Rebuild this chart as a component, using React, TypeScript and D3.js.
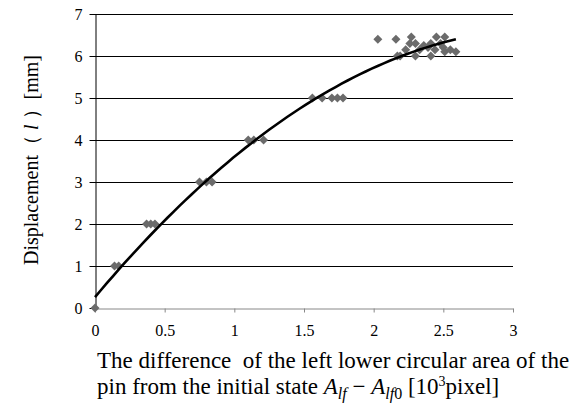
import React, { useEffect, useRef } from 'react';
import * as d3 from 'd3';

// values
const areaDiff = [
  0, 0.14, 0.17, 0.37, 0.4, 0.43, 0.75, 0.8, 0.84, 1.1, 1.14, 1.21,
  1.56, 1.63, 1.7, 1.74, 1.78, 2.03, 2.16, 2.17, 2.19, 2.23, 2.26, 2.27,
  2.3, 2.3, 2.33, 2.36, 2.39, 2.41, 2.41, 2.44, 2.45, 2.48, 2.5, 2.51,
  2.51, 2.55, 2.59,
];
const displacement = [
  0, 1, 1, 2, 2, 2, 3, 3, 3, 4, 4, 4,
  5, 5, 5, 5, 5, 6.4, 6.4, 6.0, 6.0, 6.15, 6.3, 6.45,
  6.0, 6.3, 6.15, 6.25, 6.2, 6.0, 6.3, 6.15, 6.45, 6.3, 6.2, 6.45,
  6.1, 6.15, 6.1,
];
// polynomial trendline y = c0 + c1 x + c2 x^2
const trendCoef = [0.26, 3.95, -0.61];
const xTicks = [0, 0.5, 1, 1.5, 2, 2.5, 3];
const yTicks = [0, 1, 2, 3, 4, 5, 6, 7];

const App: React.FC = () => {
  const svgRef = useRef<SVGSVGElement>(null);

  useEffect(() => {
    document.body.style.margin = '0';
    if (!svgRef.current) return;
    const width = 570;
    const height = 405;
    const left = 95, right = 513, top = 14, bottom = 308;

    const svg = d3.select(svgRef.current);
    svg.selectAll('*').remove();
    svg.attr('width', width).attr('height', height)
      .style('display', 'block')
      .style('font-family', '"Liberation Serif", "Times New Roman", serif');

    const x = d3.scaleLinear().domain([0, 3]).range([left, right]);
    const y = d3.scaleLinear().domain([0, 7]).range([bottom, top]);

    // gridlines
    svg.append('g').selectAll('line')
      .data(yTicks.filter(d => d > 0))
      .join('line')
      .attr('x1', left).attr('x2', right)
      .attr('y1', d => Math.round(y(d)) + 0.5).attr('y2', d => Math.round(y(d)) + 0.5)
      .attr('stroke', '#000').attr('stroke-width', 1);

    // x axis
    const xAxis = svg.append('g')
      .attr('transform', `translate(0,${Math.round(y(0)) + 0.5})`)
      .call(d3.axisBottom(x).tickValues(xTicks).tickSize(4).tickSizeOuter(0).tickPadding(12)
        .tickFormat(d => String(d)));
    xAxis.select('.domain').attr('stroke', '#888');
    xAxis.selectAll('.tick line').attr('stroke', '#888');
    xAxis.selectAll('text').attr('font-size', 16).attr('fill', '#000')
      .attr('font-family', '"Liberation Serif", serif');

    // y axis
    const yAxis = svg.append('g')
      .attr('transform', `translate(${left + 0.5},0)`)
      .call(d3.axisLeft(y).tickValues(yTicks).tickSize(6).tickSizeOuter(0).tickPadding(7)
        .tickFormat(d => String(d)));
    yAxis.select('.domain').attr('stroke', '#000');
    yAxis.selectAll('.tick line').attr('stroke', '#000');
    yAxis.selectAll('text').attr('font-size', 16).attr('fill', '#000')
      .attr('font-family', '"Liberation Serif", serif');

    // points
    svg.append('g').selectAll('path')
      .data(areaDiff.map((v, i) => [v, displacement[i]]))
      .join('path')
      .attr('transform', d => `translate(${x(d[0])},${y(d[1])})`)
      .attr('d', 'M0,-4.5L4.5,0L0,4.5L-4.5,0Z')
      .attr('fill', '#6b6b6b');

    // trendline over the data range
    const [c0, c1, c2] = trendCoef;
    const xMax = d3.max(areaDiff) as number;
    const curve = d3.range(0, 61).map(i => {
      const xv = (xMax * i) / 60;
      return [xv, c0 + c1 * xv + c2 * xv * xv] as [number, number];
    });
    svg.append('path')
      .datum(curve)
      .attr('d', d3.line<[number, number]>().x(d => x(d[0])).y(d => y(d[1])))
      .attr('fill', 'none').attr('stroke', '#000').attr('stroke-width', 2.6);

    // y title
    const yt = svg.append('text')
      .attr('transform', 'translate(38,160) rotate(-90)')
      .attr('text-anchor', 'middle')
      .attr('font-size', 20);
    yt.append('tspan').text('Displacement（');
    yt.append('tspan').attr('font-style', 'italic').text(' l ');
    yt.append('tspan').text('）[mm]');

    // x title
    svg.append('text').attr('x', 97).attr('y', 368).attr('font-size', 23)
      .attr('xml:space', 'preserve')
      .text('The difference  of the left lower circular area of the');
    const l2 = svg.append('text').attr('x', 97).attr('y', 394).attr('font-size', 23);
    l2.append('tspan').text('pin from the initial state ');
    l2.append('tspan').attr('font-style', 'italic').text('A');
    l2.append('tspan').attr('font-style', 'italic').attr('font-size', 16).attr('dy', 5).text('lf');
    l2.append('tspan').attr('dy', -5).text(' − ');
    l2.append('tspan').attr('font-style', 'italic').text('A');
    l2.append('tspan').attr('font-style', 'italic').attr('font-size', 16).attr('dy', 5).text('lf');
    l2.append('tspan').attr('font-size', 16).text('0');
    l2.append('tspan').attr('dy', -5).text(' [10');
    l2.append('tspan').attr('font-size', 14).attr('dy', -8).text('3');
    l2.append('tspan').attr('dy', 8).text('pixel]');
  }, []);

  return <svg ref={svgRef} />;
};

export default App;
